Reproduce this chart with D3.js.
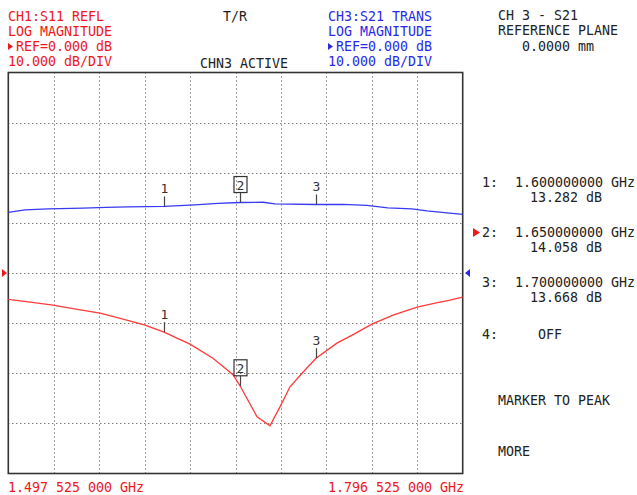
<!DOCTYPE html>
<html>
<head>
<meta charset="utf-8">
<script src="https://cdn.jsdelivr.net/npm/d3@7"></script>
<style>
  body { margin: 0; background: #fff; }
  text { font-family: "DejaVu Sans Mono", monospace; font-size: 13.3px; }
</style>
</head>
<body>
<script>
// frequency span (GHz) and display scale
var startFreq = 1.497525;
var stopFreq = 1.796525;
var refLevel = 0;
var dbPerDiv = 10;

// S11 reflection trace (red)
var s11Freq = [1.4975, 1.5120, 1.5269, 1.5420, 1.5579, 1.5730, 1.5875, 1.6000, 1.6171, 1.6322,
               1.6454, 1.6500, 1.6612, 1.6697, 1.6763, 1.6829, 1.6914, 1.7000, 1.7138, 1.7250,
               1.7368, 1.7507, 1.7665, 1.7800, 1.7882, 1.7965];
var s11Db = [-5.25, -5.8, -6.4, -7.2, -8.0, -9.2, -10.4, -11.8, -14.2, -17.0,
             -20.3, -22.5, -28.7, -30.5, -26.7, -22.7, -19.8, -17.0, -14.0, -12.2,
             -10.2, -8.4, -6.8, -5.9, -5.4, -4.8];

// S21 transmission trace (blue)
var s21Freq = [1.4975, 1.5085, 1.5236, 1.5467, 1.5618, 1.5763, 1.6000, 1.6203, 1.6355, 1.6500,
               1.6651, 1.6730, 1.7000, 1.7177, 1.7335, 1.7473, 1.7631, 1.7730, 1.7862, 1.7965];
var s21Db = [12.1, 12.6, 12.8, 12.95, 13.1, 13.2, 13.282, 13.6, 13.9, 14.058,
             14.1, 13.8, 13.668, 13.7, 13.5, 13.0, 12.8, 12.4, 12.0, 11.7];

// markers
var markerNum = [1, 2, 3];
var markerFreq = [1.60, 1.65, 1.70];
var markerFreqText = ["1.600000000 GHz", "1.650000000 GHz", "1.700000000 GHz"];
var markerValText = ["13.282 dB", "14.058 dB", "13.668 dB"];
var activeMarker = 2;

var W = 637, H = 495;
var plot = {left: 8.3, right: 462.7, top: 72.5, bottom: 473.5};

var red = "#f01818", blue = "#2a2ae8", ink = "#222";

var svg = d3.select("body").append("svg")
    .attr("width", W).attr("height", H);

svg.append("rect").attr("width", W).attr("height", H).attr("fill", "#fff");

var x = d3.scaleLinear().domain([startFreq, stopFreq]).range([plot.left, plot.right]);
var y = d3.scaleLinear()
    .domain([refLevel - 4 * dbPerDiv, refLevel + 4 * dbPerDiv])
    .range([plot.bottom, plot.top]);

// dotted graticule
var xTicks = d3.range(1, 10).map(function(i){ return startFreq + i * (stopFreq - startFreq) / 10; });
var yTicks = d3.range(-3, 4).map(function(i){ return refLevel + i * dbPerDiv; });

var grid = svg.append("g");
grid.selectAll(".vg").data(xTicks).enter().append("line")
    .attr("x1", function(d){ return Math.round(x(d)) + 0.5; })
    .attr("x2", function(d){ return Math.round(x(d)) + 0.5; })
    .attr("y1", plot.top).attr("y2", plot.bottom)
    .attr("stroke", "#444").attr("stroke-width", 1).attr("stroke-dasharray", "1,3");
grid.selectAll(".hg").data(yTicks).enter().append("line")
    .attr("y1", function(d){ return Math.round(y(d)) + 0.5; })
    .attr("y2", function(d){ return Math.round(y(d)) + 0.5; })
    .attr("x1", plot.left).attr("x2", plot.right)
    .attr("stroke", "#444").attr("stroke-width", 1).attr("stroke-dasharray", "1,3");

// frame
svg.append("rect")
    .attr("x", plot.left).attr("y", plot.top)
    .attr("width", plot.right - plot.left).attr("height", plot.bottom - plot.top)
    .attr("fill", "none").attr("stroke", "#333").attr("stroke-width", 1.6);

// traces
var line = d3.line()
    .x(function(d){ return x(d[0]); })
    .y(function(d){ return y(d[1]); });

svg.append("path")
    .datum(d3.zip(s21Freq, s21Db))
    .attr("d", line)
    .attr("fill", "none").attr("stroke", "#3a3af5").attr("stroke-width", 1.4);

svg.append("path")
    .datum(d3.zip(s11Freq, s11Db))
    .attr("d", line)
    .attr("fill", "none").attr("stroke", "#ff3a3a").attr("stroke-width", 1.3);

// reference level pointers
svg.append("path")
    .attr("d", "M2," + (y(refLevel) - 4) + "L7," + y(refLevel) + "L2," + (y(refLevel) + 4) + "Z")
    .attr("fill", red);
svg.append("path")
    .attr("d", "M470," + (y(refLevel) - 4) + "L465," + y(refLevel) + "L470," + (y(refLevel) + 4) + "Z")
    .attr("fill", blue);

// marker flags on both traces
function valueAt(freqs, vals, f) {
    var i = d3.bisectLeft(freqs, f);
    if (i <= 0) return vals[0];
    if (i >= freqs.length) return vals[vals.length - 1];
    var t = (f - freqs[i - 1]) / (freqs[i] - freqs[i - 1]);
    return vals[i - 1] + t * (vals[i] - vals[i - 1]);
}

function drawMarkers(freqs, vals) {
    markerFreq.forEach(function(f, i) {
        var mx = Math.round(x(f)) + 0.5;
        var my = y(valueAt(freqs, vals, f));
        var g = svg.append("g");
        g.append("line")
            .attr("x1", mx).attr("x2", mx)
            .attr("y1", my).attr("y2", my - 10)
            .attr("stroke", "#444").attr("stroke-width", 1.2);
        g.append("text")
            .attr("x", mx).attr("y", my - 13)
            .attr("text-anchor", "middle")
            .style("font-size", "13px")
            .attr("fill", "#333")
            .text(markerNum[i]);
        if (markerNum[i] === activeMarker) {
            g.append("rect")
                .attr("x", mx - 6.5).attr("y", my - 26)
                .attr("width", 13).attr("height", 16)
                .attr("fill", "none").attr("stroke", "#333").attr("stroke-width", 1.2);
        }
    });
}
drawMarkers(s21Freq, s21Db);
drawMarkers(s11Freq, s11Db);

// header texts
function txt(tx, ty, s, col) {
    return svg.append("text").attr("x", tx).attr("y", ty).attr("fill", col).text(s);
}
function pointer(px, py, col) {
    svg.append("path")
        .attr("d", "M" + px + "," + (py - 8) + "L" + (px + 5) + "," + (py - 4.5) + "L" + px + "," + (py - 1) + "Z")
        .attr("fill", col);
}

txt(8, 21, "CH1:S11 REFL", red);
txt(8, 36, "LOG MAGNITUDE", red);
pointer(8, 51, red);
txt(16, 51, "REF=0.000 dB", red);
txt(8, 66, "10.000 dB/DIV", red);

txt(223, 21, "T/R", ink);
txt(200, 68, "CHN3 ACTIVE", ink);

txt(328, 21, "CH3:S21 TRANS", blue);
txt(328, 36, "LOG MAGNITUDE", blue);
pointer(328, 51, blue);
txt(336, 51, "REF=0.000 dB", blue);
txt(328, 66, "10.000 dB/DIV", blue);

txt(498, 20, "CH 3 - S21", ink);
txt(498, 35, "REFERENCE PLANE", ink);
txt(522, 51, "0.0000 mm", ink);

// marker readout
var rowY = [187, 237, 287];
markerNum.forEach(function(m, i) {
    if (m === activeMarker) {
        svg.append("path")
            .attr("d", "M473," + (rowY[i] - 9) + "L480," + (rowY[i] - 4.5) + "L473," + rowY[i] + "Z")
            .attr("fill", red);
    }
    txt(482, rowY[i], m + ":", ink);
    txt(515, rowY[i], markerFreqText[i], ink);
    txt(530, rowY[i] + 15, markerValText[i], ink);
});
txt(482, 339, "4:", ink);
txt(538, 339, "OFF", ink);

txt(498, 405, "MARKER TO PEAK", ink);
txt(498, 456, "MORE", ink);

// start / stop
txt(8, 492, "1.497 525 000 GHz", red);
txt(328, 492, "1.796 525 000 GHz", red);
</script>
</body>
</html>
